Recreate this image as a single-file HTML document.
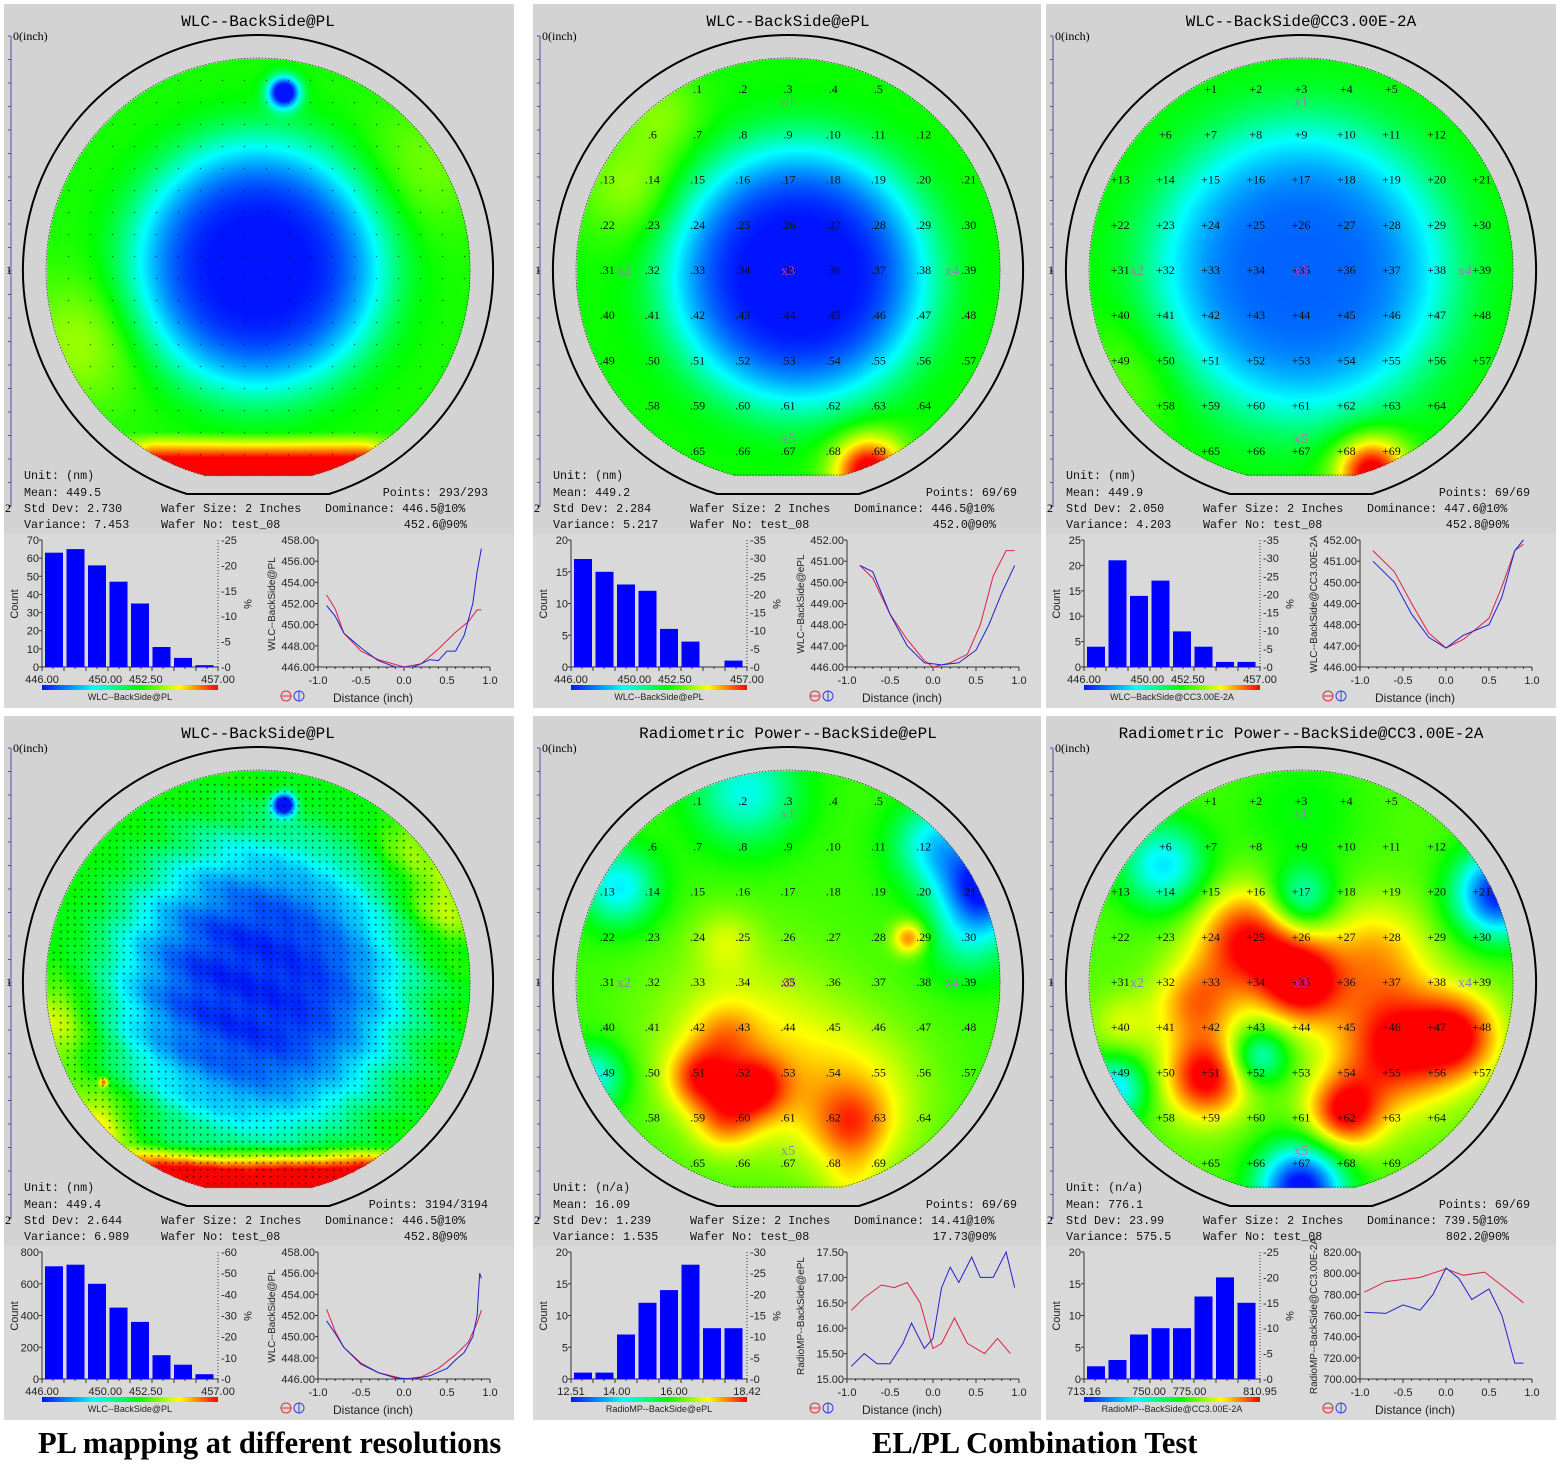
<!DOCTYPE html>
<html><head><meta charset="utf-8">
<style>
body{margin:0;width:1560px;height:1469px;background:#fff;position:relative;overflow:hidden}
.pn{position:absolute;background:#d3d3d3;overflow:hidden}
.pn canvas,.pn svg{position:absolute;left:0;top:0}
.cap{position:absolute;font-family:"Liberation Serif",serif;font-weight:bold;font-size:30.5px;color:#000;white-space:nowrap}
</style></head><body>
<div id="root"></div>
<div class="cap" style="left:38px;top:1426px">PL mapping at different resolutions</div>
<div class="cap" style="left:872px;top:1426px">EL/PL Combination Test</div>
<script>
function g(u,v,x,y,s){return Math.exp(-((u-x)*(u-x)+(v-y)*(v-y))/(s*s));}
function cl(a,b,t){return Math.max(a,Math.min(b,t));}
function bowl(u,v,r,ex,ey){const q=Math.sqrt(((u-ex)*(u-ex)+(v-ey)*(v-ey)))/r;return Math.exp(-q*q*q*q);}
const F=[
 (u,v)=>{let t=0.57-0.58*bowl(u,v,0.6,0,-0.02);t+=0.5*cl(0,1,(v-0.76)/0.14)*cl(0,1,(0.75-Math.abs(u))/0.25);t+=0.12*g(u,v,-0.85,0.35,0.3)+0.08*g(u,v,0.8,-0.5,0.3);t-=0.8*g(u,v,0.12,-0.84,0.07);return t;},
 (u,v)=>{let t=0.56-0.58*bowl(u,v,0.62,0.05,0.02);t+=0.5*g(u,v,0.38,0.95,0.17);t+=0.12*g(u,v,-0.75,-0.4,0.25)+0.1*g(u,v,-0.6,-0.75,0.2);return t;},
 (u,v)=>{let t=0.55-0.45*bowl(u,v,0.7,0,0);t+=0.5*g(u,v,0.33,0.95,0.17);t+=0.08*g(u,v,-0.8,0.5,0.3);return t;},
 (u,v)=>{let t=0.56-0.48*bowl(u,v,0.72,0,0.02)-0.05*bowl(u,v,0.4,0,0);t+=0.5*cl(0,1,(v-0.76)/0.12)*cl(0,1,(0.8-Math.abs(u))/0.25);
   t+=0.2*g(u,v,-0.98,0.2,0.2)+0.25*g(u,v,-0.78,0.68,0.18)+0.18*g(u,v,0.88,-0.38,0.2)+0.12*g(u,v,0.7,-0.65,0.15);
   t+=0.015*Math.sin(u*23+v*11)*Math.sin(v*19-u*31)+0.015*Math.sin(u*13-v*29);
   t-=0.8*g(u,v,0.12,-0.84,0.05);t+=0.35*g(u,v,-0.73,0.47,0.02);return t;},
 (u,v)=>{let t=0.6;t+=0.18*g(u,v,-0.2,0.3,0.45)+0.18*g(u,v,0.3,0.55,0.35)+0.26*g(u,v,-0.42,0.45,0.15)+0.26*g(u,v,-0.15,0.5,0.15)+0.2*g(u,v,-0.3,0.65,0.15)+0.12*g(u,v,-0.3,0.25,0.15)+0.18*g(u,v,0.3,0.68,0.18)+0.1*g(u,v,0.3,0.95,0.15)+0.3*g(u,v,0.57,-0.21,0.08)+0.1*g(u,v,-0.3,-0.2,0.15);
   t-=0.58*g(u,v,0.92,-0.45,0.2)+0.33*g(u,v,0.7,-0.65,0.2)+0.28*g(u,v,-0.2,-0.9,0.25)+0.32*g(u,v,-0.8,-0.45,0.18)+0.3*g(u,v,-0.92,0.45,0.15)+0.18*g(u,v,0.85,-0.2,0.2);return t;},
 (u,v)=>{let t=0.62;t+=0.38*g(u,v,-0.25,-0.2,0.25)+0.4*g(u,v,0,0,0.2)+0.4*g(u,v,0.45,0.3,0.3)+0.3*g(u,v,0.75,0.25,0.2)+0.36*g(u,v,0.2,0.62,0.18)+0.4*g(u,v,-0.45,0.45,0.2)+0.25*g(u,v,-0.5,0.1,0.2)+0.2*g(u,v,0.35,-0.15,0.25)+0.12*g(u,v,-0.85,0.2,0.15);
   t-=0.28*g(u,v,0,-0.4,0.15)+0.3*g(u,v,-0.2,0.35,0.13)+0.62*g(u,v,0.93,-0.42,0.2)+0.67*g(u,v,0,0.97,0.2)+0.35*g(u,v,-0.65,-0.55,0.2)+0.35*g(u,v,-0.88,0.5,0.15)+0.08*g(u,v,0,-0.8,0.3);return t;}
];
const ST=[[0,[0,20,255]],[0.3,[0,255,255]],[0.55,[0,255,0]],[0.78,[255,255,0]],[1,[255,0,0]]];
function jet(t){t=cl(0,1,t);for(let i=1;i<ST.length;i++){if(t<=ST[i][0]){const a=ST[i-1],b=ST[i],f=(t-a[0])/(b[0]-a[0]);return [0,1,2].map(k=>Math.round(a[1][k]+(b[1][k]-a[1][k])*f));}}return [255,0,0];}
const P=[
 {x:4,y:4,w:510,h:704,cx:254,title:'WLC--BackSide@PL',dots:22,unit:'(nm)',mean:'449.5',sd:'2.730',vr:'7.453',pts:'293/293',d1:'446.5@10%',d2:'452.6@90%',
  hl:[0,70,10],hr:[0,25,5],bars:[63,65,56,47,35,11,5,1],xl:[['446.00',0],['450.00',0.36],['452.50',0.59],['457.00',1]],cb:'WLC--BackSide@PL',
  ly:[446,458,2],yl:'WLC--BackSide@PL',red:[[-0.9,452.8],[-0.8,451.5],[-0.7,449.2],[-0.5,447.5],[-0.3,446.7],[0,446],[0.2,446.3],[0.4,447.7],[0.6,449.3],[0.75,450.3],[0.85,451.4],[0.9,451.4]],
  blue:[[-0.9,451.8],[-0.8,450.8],[-0.7,449.2],[-0.5,447.8],[-0.3,446.6],[-0.1,446],[0.1,446],[0.2,446.3],[0.3,446.7],[0.4,446.6],[0.5,447.5],[0.6,447.5],[0.7,449],[0.8,452],[0.85,455],[0.9,457.2]]},
 {x:533,y:4,w:508,h:704,cx:255,title:'WLC--BackSide@ePL',grid:'.',unit:'(nm)',mean:'449.2',sd:'2.284',vr:'5.217',pts:'69/69',d1:'446.5@10%',d2:'452.0@90%',
  hl:[0,20,5],hr:[0,35,5],bars:[17,15,13,12,6,4,0,1],xl:[['446.00',0],['450.00',0.36],['452.50',0.59],['457.00',1]],cb:'WLC--BackSide@ePL',
  ly:[446,452,1],yl:'WLC--BackSide@ePL',red:[[-0.85,450.8],[-0.7,450.2],[-0.5,448.5],[-0.3,447.3],[-0.1,446.3],[0,446],[0.2,446.2],[0.4,446.6],[0.55,448],[0.7,450.3],[0.85,451.5],[0.95,451.5]],
  blue:[[-0.85,450.8],[-0.7,450.5],[-0.5,448.5],[-0.3,447],[-0.1,446.2],[0.1,446.1],[0.3,446.2],[0.5,446.8],[0.65,448],[0.8,449.5],[0.95,450.8]]},
 {x:1046,y:4,w:510,h:704,cx:255,title:'WLC--BackSide@CC3.00E-2A',grid:'+',unit:'(nm)',mean:'449.9',sd:'2.050',vr:'4.203',pts:'69/69',d1:'447.6@10%',d2:'452.8@90%',
  hl:[0,25,5],hr:[0,35,5],bars:[4,21,14,17,7,4,1,1],xl:[['446.00',0],['450.00',0.36],['452.50',0.59],['457.00',1]],cb:'WLC--BackSide@CC3.00E-2A',
  ly:[446,452,1],yl:'WLC--BackSide@CC3.00E-2A',red:[[-0.85,451.5],[-0.6,450.5],[-0.4,449],[-0.2,447.6],[0,446.9],[0.2,447.3],[0.5,448.3],[0.65,449.8],[0.8,451.5],[0.9,451.8]],
  blue:[[-0.85,451],[-0.6,450],[-0.4,448.5],[-0.2,447.4],[0,446.9],[0.2,447.5],[0.5,448],[0.65,449.3],[0.8,451.5],[0.9,452]]},
 {x:4,y:716,w:510,h:704,cx:254,title:'WLC--BackSide@PL',dots:7,unit:'(nm)',mean:'449.4',sd:'2.644',vr:'6.989',pts:'3194/3194',d1:'446.5@10%',d2:'452.8@90%',
  hl:[0,800,200],hr:[0,60,10],bars:[710,720,600,450,360,150,90,30],xl:[['446.00',0],['450.00',0.36],['452.50',0.59],['457.00',1]],cb:'WLC--BackSide@PL',
  ly:[446,458,2],yl:'WLC--BackSide@PL',red:[[-0.9,452.6],[-0.8,450.5],[-0.7,449],[-0.5,447.5],[-0.3,446.6],[0,446],[0.2,446.2],[0.4,447],[0.6,448.3],[0.75,449.5],[0.85,451.3],[0.9,452.5]],
  blue:[[-0.9,451.5],[-0.8,450.3],[-0.7,449],[-0.5,447.4],[-0.3,446.6],[-0.1,446.1],[0.1,446],[0.3,446.3],[0.5,447],[0.6,447.8],[0.7,448.5],[0.8,450],[0.85,452],[0.88,456],[0.9,455.5]]},
 {x:533,y:716,w:508,h:704,cx:255,title:'Radiometric Power--BackSide@ePL',grid:'.',unit:'(n/a)',mean:'16.09',sd:'1.239',vr:'1.535',pts:'69/69',d1:'14.41@10%',d2:'17.73@90%',
  hl:[0,20,5],hr:[0,30,5],bars:[1,1,7,12,14,18,8,8],xl:[['12.51',0],['14.00',0.26],['16.00',0.585],['18.42',1]],cb:'RadioMP--BackSide@ePL',
  ly:[15,17.5,0.5],yl:'RadioMP--BackSide@ePL',red:[[-0.95,16.35],[-0.8,16.6],[-0.6,16.85],[-0.45,16.8],[-0.3,16.9],[-0.15,16.5],[0,15.6],[0.1,15.7],[0.25,16.2],[0.4,15.7],[0.6,15.5],[0.75,15.8],[0.9,15.5]],
  blue:[[-0.95,15.25],[-0.8,15.5],[-0.65,15.3],[-0.5,15.3],[-0.35,15.7],[-0.25,16.1],[-0.1,15.6],[0,15.8],[0.1,16.8],[0.2,17.2],[0.3,16.9],[0.45,17.4],[0.55,17.0],[0.7,17.0],[0.85,17.5],[0.95,16.8]]},
 {x:1046,y:716,w:510,h:704,cx:255,title:'Radiometric Power--BackSide@CC3.00E-2A',grid:'+',unit:'(n/a)',mean:'776.1',sd:'23.99',vr:'575.5',pts:'69/69',d1:'739.5@10%',d2:'802.2@90%',
  hl:[0,20,5],hr:[0,25,5],bars:[2,3,7,8,8,13,16,12],xl:[['713.16',0],['750.00',0.37],['775.00',0.6],['810.95',1]],cb:'RadioMP--BackSide@CC3.00E-2A',
  ly:[700,820,20],yl:'RadioMP--BackSide@CC3.00E-2A',red:[[-0.95,782],[-0.7,792],[-0.3,796],[0,804],[0.2,798],[0.45,801],[0.7,785],[0.9,772]],
  blue:[[-0.95,763],[-0.7,762],[-0.5,770],[-0.3,765],[-0.15,780],[0,805],[0.15,795],[0.3,775],[0.5,785],[0.65,760],[0.8,715],[0.9,715]]}
];
const root=document.getElementById('root');
const R=212,CY=266;
P.forEach((p,i)=>{
 const d=document.createElement('div');d.className='pn';
 d.style.cssText=`left:${p.x}px;top:${p.y}px;width:${p.w}px;height:${p.h}px`;
 const cv=document.createElement('canvas');cv.width=430;cv.height=430;cv.style.left=(p.cx-215)+'px';cv.style.top=(CY-215)+'px';
 const ctx=cv.getContext('2d');const im=ctx.createImageData(430,430);
 for(let py=0;py<430;py++)for(let px=0;px<430;px++){
  const u=(px-215)/R,v=(py-215)/R;if(u*u+v*v>1||v*R>205)continue;
  const c=jet(F[i](u,v));const k=(py*430+px)*4;im.data[k]=c[0];im.data[k+1]=c[1];im.data[k+2]=c[2];im.data[k+3]=255;}
 ctx.putImageData(im,0,0);
 if(p.dots){ctx.fillStyle='#000';const s=p.dots;for(let yy=-R;yy<=205;yy+=s)for(let xx=-R;xx<=R;xx+=s){if(xx*xx+yy*yy<(R-4)*(R-4)&&yy<203)ctx.fillRect(215+xx,215+yy,s>10?1:1.4,s>10?1:1.4);}}
 d.appendChild(cv);
 const cx=p.cx;let s='';
 const T=(x,y,t,o)=>`<text x="${x}" y="${y}" ${o||''}>${t}</text>`;
 s+=T(cx,22,p.title,'text-anchor="middle" font-family="Liberation Mono,monospace" font-size="16"');
 s+=`<path d="M7 32V503" stroke="#5050a8" fill="none"/>`;
 for(let y=32;y<=503;y+=23.5)s+=`<path d="M4 ${y.toFixed(1)}H7" stroke="#5050a8"/>`;
 s+=`<g font-family="Liberation Serif,serif" font-size="12">`+T(9,36,'0(inch)')+T(2,270,'1')+T(1,508,'2')+`</g>`;
 s+=`<path d="M${cx-71} ${CY+224}A235 235 0 1 1 ${cx+71} ${CY+224}Z" fill="none" stroke="#000" stroke-width="2"/>`;
 const hx=Math.sqrt(R*R-205*205);
 s+=`<path d="M${cx-hx} ${CY+205}A${R} ${R} 0 1 1 ${cx+hx} ${CY+205}Z" fill="none" stroke="#333" stroke-width="0.7" stroke-dasharray="1.5 1.5"/>`;
 if(p.grid){
  const cnt=[5,7,9,9,9,9,9,7,5];let n=1;s+=`<g font-family="Liberation Serif,serif" font-size="12" fill="#111" text-anchor="middle">`;
  for(let j=0;j<9;j++){const c=cnt[j];for(let k=0;k<c;k++){const gx=cx+(k-(c-1)/2)*45.2,gy=CY+(j-4)*45.2+4;s+=T(gx.toFixed(1),gy.toFixed(1),p.grid+n);n++;}}
  s+=`</g><g font-family="Liberation Serif,serif" font-size="14" fill="#9a80b0" text-anchor="middle">`+T(cx,CY-164,'x1')+T(cx-164,CY+5,'x2')+T(cx+164,CY+5,'x4')+T(cx,CY+173,'x5')+`<text x="${cx}" y="${CY+5}" fill="#c030c0">x3</text></g>`;
 }
 s+=`<g font-family="Liberation Mono,monospace" font-size="11.7" fill="#111">`+T(20,475,'Unit: '+p.unit)+T(20,492,'Mean: '+p.mean)+T(20,508,'Std Dev: '+p.sd)+T(20,524,'Variance: '+p.vr)
  +T(157,508,'Wafer Size: 2 Inches')+T(157,524,'Wafer No: test_08')+T(484,492,'Points: '+p.pts,'text-anchor="end"')+T(321,508,'Dominance: '+p.d1)+T(463,524,p.d2,'text-anchor="end"')+`</g>`;
 s+=`<rect x="0" y="530" width="${p.w}" height="174" fill="#d9d9d9"/>`;
 const X0=38,X1=214,Y0=663,Y1=536;
 s+=`<g font-family="Liberation Sans,sans-serif" font-size="11" fill="#222">`;
 s+=`<path d="M${X0} ${Y1}V${Y0}H${X1}" stroke="#333" fill="none"/><path d="M${X1} ${Y1}V${Y0}" stroke="#333" stroke-dasharray="1 2" fill="none"/>`;
 for(let v=p.hl[0];v<=p.hl[1]+1e-9;v+=p.hl[2]){const y=Y0-(v-p.hl[0])/(p.hl[1]-p.hl[0])*(Y0-Y1);s+=T(X0-3,y+4,v,'text-anchor="end"')+`<path d="M${X0-3} ${y}H${X0}" stroke="#333"/>`;}
 for(let v=p.hr[0];v<=p.hr[1]+1e-9;v+=p.hr[2]){const y=Y0-(v-p.hr[0])/(p.hr[1]-p.hr[0])*(Y0-Y1);s+=T(X1+3,y+4,'-'+v)}
 s+=`<text transform="translate(14 600) rotate(-90)" text-anchor="middle">Count</text><text transform="translate(240 600) rotate(90)" text-anchor="middle">%</text>`;
 const pitch=(X1-X0-4)/p.bars.length;
 p.bars.forEach((b,k)=>{const h=b/p.hl[1]*(Y0-Y1);s+=`<rect x="${(X0+3+k*pitch).toFixed(1)}" y="${(Y0-h).toFixed(1)}" width="${(pitch-3.5).toFixed(1)}" height="${h.toFixed(1)}" fill="#0000ff"/>`;});
 for(let k=0;k<=16;k++){const x=X0+k*(X1-X0)/16;s+=`<path d="M${x} ${Y0}V${Y0+(k%2?2:4)}" stroke="#333"/>`;}
 p.xl.forEach(l=>{s+=T(X0+l[1]*(X1-X0),679,l[0],'text-anchor="middle"')});
 s+=`<defs><linearGradient id="jg${i}"><stop offset="0" stop-color="#0014ff"/><stop offset="0.3" stop-color="#00ffff"/><stop offset="0.55" stop-color="#00ff00"/><stop offset="0.78" stop-color="#ffff00"/><stop offset="1" stop-color="#ff0000"/></linearGradient></defs>`;
 s+=`<rect x="${X0}" y="681" width="${X1-X0}" height="5" fill="url(#jg${i})"/>`+T((X0+X1)/2,696,p.cb,'text-anchor="middle" font-size="9"');
 const L0=314,L1=486;
 s+=`<path d="M${L0} ${Y1}V${Y0}H${L1}" stroke="#333" fill="none"/>`;
 const ny=Math.round((p.ly[1]-p.ly[0])/p.ly[2]);
 for(let k=0;k<=ny;k++){const v=p.ly[0]+k*p.ly[2];const y=Y0-k/ny*(Y0-Y1);s+=T(L0-3,y+4,v.toFixed(2),'text-anchor="end"')+`<path d="M${L0-3} ${y}H${L0}" stroke="#333"/>`;}
 for(let k=0;k<=20;k++){const x=L0+k*(L1-L0)/20;s+=`<path d="M${x} ${Y0}V${Y0+(k%5?2:4)}" stroke="#333"/>`;}
 [-1,-0.5,0,0.5,1].forEach(v=>{s+=T(L0+(v+1)/2*(L1-L0),680,v.toFixed(1),'text-anchor="middle"')});
 s+=`<text transform="translate(271 600) rotate(-90)" text-anchor="middle" font-size="10">${p.yl}</text>`;
 const pl=(arr,c)=>`<polyline fill="none" stroke="${c}" stroke-width="1" points="${arr.map(a=>((L0+(a[0]+1)/2*(L1-L0)).toFixed(1)+','+(Y0-(a[1]-p.ly[0])/(p.ly[1]-p.ly[0])*(Y0-Y1)).toFixed(1))).join(' ')}"/>`;
 s+=pl(p.red,'#e02040')+pl(p.blue,'#2020d0');
 s+=`<circle cx="282" cy="692" r="5" fill="none" stroke="#e03040"/><path d="M277 692H287" stroke="#e03040"/><circle cx="295" cy="692" r="5" fill="none" stroke="#3040e0"/><path d="M295 687V697" stroke="#3040e0"/>`;
 s+=T(369,698,'Distance (inch)','text-anchor="middle" font-size="12"');
 s+=`</g>`;
 const sv=document.createElementNS('http://www.w3.org/2000/svg','svg');sv.setAttribute('width',p.w);sv.setAttribute('height',p.h);sv.innerHTML=s;
 d.appendChild(sv);root.appendChild(d);
});
</script>
</body></html>
